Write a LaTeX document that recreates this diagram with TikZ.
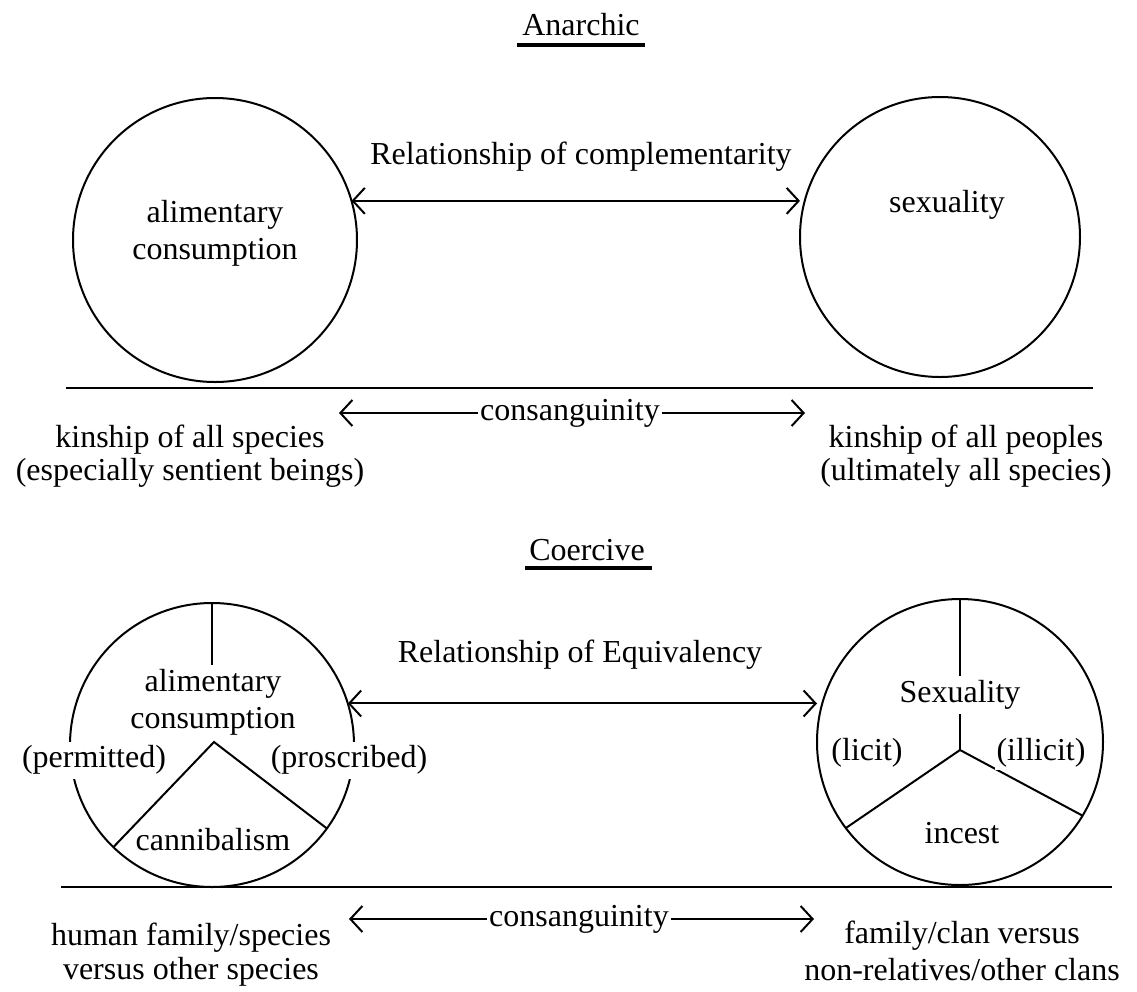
\documentclass[tikz,border=0pt]{standalone}
\usepackage{fontspec}
\setmainfont{Liberation Serif}
\usetikzlibrary{arrows.meta}
\begin{document}
\begin{tikzpicture}[x=0.5pt,y=-0.5pt,
  every node/.style={font=\fontsize{16}{18.5}\selectfont, inner sep=1pt, align=center},
  ring/.style={circle,draw,line width=1pt,inner sep=0pt,outer sep=0pt},
  rule/.style={line width=1.4pt},
  uline/.style={line width=1.7pt},
  div/.style={line width=1pt},
  barb/.tip={Straight Barb[length=6pt,width=13pt,line width=1pt]},
  arr/.style={line width=1pt,barb-barb},
  rarr/.style={line width=1pt,-barb},
  lbl/.style={fill=white,inner sep=2pt}
]
\useasboundingbox (0,0) rectangle (1137,992);
% ---------- Anarchic ----------
\node (t1) at (581,25) {Anarchic};
\coordinate (u1a) at (517,45); \coordinate (u1b) at (645,45);
\draw[uline] (u1a) -- (u1b);
\node[ring,minimum size=142pt] (L1) at (215,240) {};
\node[ring,minimum size=140pt] (R1) at (940,237) {};
\node (ac1) at (215,233) {alimentary\\consumption};
\node (sx1) at (947,205) {sexuality};
\node (rc) at (581,157) {Relationship of complementarity};
\draw[arr] (L1.16) -- (R1.west |- L1.16);
\coordinate (b1a) at (66,388); \coordinate (b1b) at (1093,388);
\draw[rule] (b1a) -- (b1b);
\node (cs1) at (570,413) {consanguinity};
\coordinate (cl1) at (339,413); \coordinate (cr1) at (805,413);
\draw[rarr] (cs1) -- (cl1);
\draw[rarr] (cs1) -- (cr1);
\node[font=\fontsize{16}{16.5}\selectfont] (k1) at (190,456) {kinship of all species\\(especially sentient beings)};
\node[font=\fontsize{16}{16.5}\selectfont] (k2) at (966,456) {kinship of all peoples\\(ultimately all species)};
% ---------- Coercive ----------
\node (t2) at (587,550) {Coercive};
\coordinate (u2a) at (525,568); \coordinate (u2b) at (652,568);
\draw[uline] (u2a) -- (u2b);
\node[ring,minimum size=142pt] (L2) at (212,745) {};
\node[ring,minimum size=143pt] (R2) at (960,742) {};
\coordinate (d1) at (212,665); \coordinate (v1) at (214,742);
\draw[div] (L2.north) -- (d1);
\draw[div] (L2.226) -- (v1) -- (L2.324);
\node (ac2) at (213,702) {alimentary\\consumption};
\node[lbl] (pm) at (94,760) {(permitted)};
\node[lbl] (pr) at (349,760) {(proscribed)};
\node (cn) at (213,840) {cannibalism};
\node (re) at (580,655) {Relationship of Equivalency};
\draw[arr] (L2.17) -- (R2.west |- L2.17);
\coordinate (v2) at (960,750);
\draw[div] (R2.north) -- (v2);
\draw[div] (R2.217) -- (v2) -- (R2.329);
\node[lbl] (sx2) at (960,695) {Sexuality};
\node[lbl] (lc) at (867,753) {(licit)};
\node[lbl,inner sep=1pt] (il) at (1041,753) {(illicit)};
\node (in) at (962,833) {incest};
\coordinate (b2a) at (61,887); \coordinate (b2b) at (1112,887);
\draw[rule] (b2a) -- (b2b);
\node (cs2) at (579,919) {consanguinity};
\coordinate (cl2) at (349,919); \coordinate (cr2) at (814,919);
\draw[rarr] (cs2) -- (cl2);
\draw[rarr] (cs2) -- (cr2);
\node[font=\fontsize{16}{17}\selectfont] (h1) at (191,955) {human family/species\\versus other species};
\node[font=\fontsize{16}{18.5}\selectfont] (h2) at (962,951) {family/clan versus\\non-relatives/other clans};
\end{tikzpicture}
\end{document}
